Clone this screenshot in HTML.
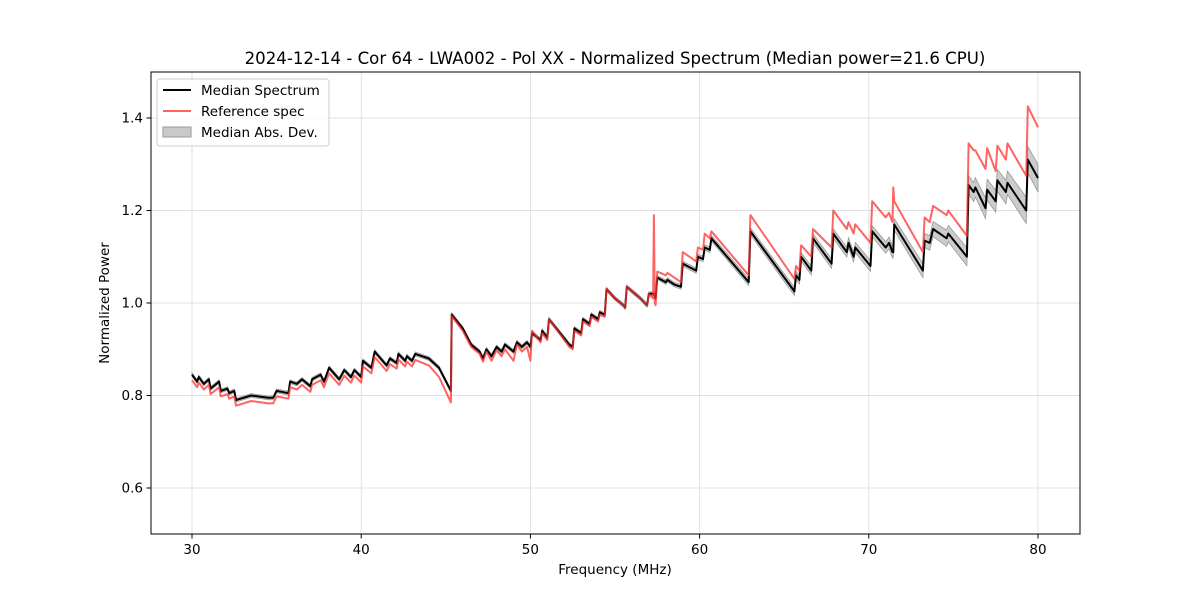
<!DOCTYPE html>
<html><head><meta charset="utf-8"><style>
body{margin:0;background:#fff;}
svg{display:block;font-family:"DejaVu Sans","Liberation Sans",sans-serif;}
</style></head><body>
<svg id="chart" width="1200" height="600">
<rect x="0" y="0" width="1200" height="600" fill="#fff"/>
<g id="grid"></g>
<g id="band"></g>
<g id="lines"></g>
<rect x="151" y="72" width="929" height="462" fill="none" stroke="#000" stroke-width="1"/>
<g id="ticks"></g>
<text x="615" y="64" text-anchor="middle" font-size="16.6">2024-12-14 - Cor 64 - LWA002 - Pol XX - Normalized Spectrum (Median power=21.6 CPU)</text>
<text x="615" y="574" text-anchor="middle" font-size="13.5">Frequency (MHz)</text>
<text x="109" y="303" text-anchor="middle" font-size="13.5" transform="rotate(-90 109 303)">Normalized Power</text>
<g>
<rect x="157" y="79" width="172" height="67" rx="3" fill="#fff" fill-opacity="0.8" stroke="#ccc"/>
<line x1="163" y1="90" x2="191" y2="90" stroke="#000" stroke-width="2"/>
<text x="201" y="95" font-size="13.5">Median Spectrum</text>
<line x1="163" y1="111" x2="191" y2="111" stroke="#ff6060" stroke-width="2"/>
<text x="201" y="116" font-size="13.5">Reference spec</text>
<rect x="163" y="127" width="28" height="10" fill="#bbb" fill-opacity="0.8" stroke="#999"/>
<text x="201" y="137" font-size="13.5">Median Abs. Dev.</text>
</g>
</svg>
<script>
const freqs=[30.0,30.3,30.4,30.7,31.0,31.1,31.6,31.7,32.1,32.2,32.5,32.6,33.5,34.5,34.8,35.0,35.7,35.8,36.2,36.5,37.0,37.1,37.6,37.8,38.1,38.7,39.0,39.4,39.6,40.0,40.1,40.6,40.8,41.5,41.7,42.1,42.2,42.6,42.7,43.0,43.2,44.0,44.6,45.3,45.35,46.0,46.5,47.0,47.2,47.4,47.7,48.0,48.3,48.5,49.0,49.2,49.5,49.8,50.0,50.1,50.6,50.7,51.0,51.1,52.3,52.5,52.6,53.0,53.1,53.5,53.6,54.0,54.1,54.4,54.5,55.0,55.5,55.6,55.7,56.5,56.9,57.0,57.25,57.3,57.35,57.4,57.5,58.0,58.1,58.5,58.9,59.0,59.8,59.9,60.2,60.3,60.6,60.7,62.9,63.0,65.6,65.7,65.9,66.0,66.6,66.7,67.8,67.9,68.5,68.7,68.8,69.1,69.2,70.1,70.2,71.0,71.2,71.4,71.45,71.5,73.2,73.3,73.6,73.8,74.6,74.7,75.8,75.9,76.2,76.3,76.9,77.0,77.5,77.6,78.1,78.2,79.3,79.4,80.0];
const median=[.845,.83,.84,.825,.835,.815,.83,.81,.815,.805,.81,.79,.80,.795,.795,.81,.805,.83,.825,.835,.82,.835,.845,.83,.86,.835,.855,.84,.855,.84,.875,.86,.895,.865,.88,.87,.89,.875,.885,.875,.89,.88,.86,.81,.975,.945,.91,.895,.88,.90,.885,.905,.895,.91,.895,.915,.905,.915,.905,.935,.92,.94,.925,.965,.91,.905,.945,.935,.965,.955,.975,.965,.98,.975,1.03,1.01,.995,.99,1.035,1.01,.995,1.02,1.02,1.02,1.015,1.01,1.055,1.045,1.05,1.04,1.035,1.085,1.07,1.10,1.095,1.12,1.115,1.14,1.045,1.155,1.025,1.06,1.05,1.10,1.07,1.14,1.085,1.15,1.12,1.11,1.13,1.10,1.12,1.08,1.155,1.12,1.13,1.11,1.11,1.17,1.07,1.135,1.13,1.16,1.14,1.15,1.10,1.255,1.24,1.25,1.205,1.245,1.22,1.265,1.24,1.26,1.20,1.31,1.27];
const reference=[.833,.818,.828,.813,.823,.803,.818,.798,.803,.793,.798,.778,.788,.783,.783,.798,.793,.818,.813,.823,.808,.823,.833,.818,.848,.823,.843,.828,.843,.828,.863,.848,.883,.853,.868,.858,.878,.863,.873,.863,.877,.865,.84,.785,.972,.94,.905,.89,.873,.895,.875,.898,.885,.90,.875,.91,.895,.905,.875,.94,.915,.935,.92,.965,.905,.90,.94,.93,.96,.95,.97,.96,.975,.97,1.03,1.01,.995,.99,1.035,1.01,.995,1.02,1.01,1.19,1.0,.995,1.068,1.06,1.065,1.055,1.045,1.11,1.09,1.12,1.115,1.15,1.14,1.155,1.06,1.19,1.052,1.08,1.07,1.125,1.10,1.16,1.12,1.20,1.17,1.16,1.175,1.15,1.17,1.13,1.22,1.185,1.195,1.175,1.25,1.22,1.11,1.185,1.175,1.21,1.19,1.20,1.145,1.345,1.33,1.33,1.29,1.335,1.285,1.34,1.31,1.345,1.275,1.425,1.38];
const madBreaks=[30,57,66,72,76,80];
const madWidth=[.004,.004,.009,.013,.02,.03];
const xTicks=[30,40,50,60,70,80];
const yTicks=[0.6,0.8,1.0,1.2,1.4];
const yTickLabels=["0.6","0.8","1.0","1.2","1.4"];

const X=f=>192+(f-30)*16.92;
const Y=v=>534.25-(v-0.5)*462.5;
const NS="http://www.w3.org/2000/svg";
function mk(tag,attrs,parent){const e=document.createElementNS(NS,tag);for(const k in attrs)e.setAttribute(k,attrs[k]);parent.appendChild(e);return e;}
function madAt(f){for(let i=1;i<madBreaks.length;i++){if(f<=madBreaks[i]){const t=(f-madBreaks[i-1])/(madBreaks[i]-madBreaks[i-1]);return madWidth[i-1]+t*(madWidth[i]-madWidth[i-1]);}}return madWidth[madWidth.length-1];}

const grid=document.getElementById('grid'),ticks=document.getElementById('ticks');
xTicks.forEach(t=>{
  const gl=mk('line',{x1:X(t),x2:X(t),y1:72,y2:534,stroke:'#e0e0e0','stroke-width':1},grid);
  
  
  const tk=mk('line',{x1:X(t),x2:X(t),y1:534,y2:538.5,stroke:'#000'},ticks);
  
  
  const tl=mk('text',{x:X(t),y:554,'text-anchor':'middle','font-size':13.5},ticks);
  tl.textContent=t;
  
  
});
yTicks.forEach((t,i)=>{
  const gl=mk('line',{x1:151,x2:1080,y1:Y(t),y2:Y(t),stroke:'#e0e0e0','stroke-width':1},grid);
  
  
  const tk=mk('line',{x1:146.5,x2:151,y1:Y(t),y2:Y(t),stroke:'#000'},ticks);
  
  
  const tl=mk('text',{x:143,y:Y(t)+4.5,'text-anchor':'end','font-size':13.5},ticks);
  tl.textContent=yTickLabels[i];
  
  
});
let up=[],dn=[];
freqs.forEach((f,i)=>{const d=madAt(f);up.push(X(f).toFixed(1)+','+Y(median[i]+d).toFixed(1));dn.unshift(X(f).toFixed(1)+','+Y(median[i]-d).toFixed(1));});
const band=mk('polygon',{points:up.concat(dn).join(' '),fill:'#aaa','fill-opacity':0.6,stroke:'#999','stroke-width':0.8},document.getElementById('band'));


const lines=document.getElementById('lines');
const refL=mk('polyline',{points:freqs.map((f,i)=>X(f).toFixed(1)+','+Y(reference[i]).toFixed(1)).join(' '),fill:'none',stroke:'#ff3030','stroke-opacity':0.75,'stroke-width':2,'stroke-linejoin':'round'},lines);


const medL=mk('polyline',{points:freqs.map((f,i)=>X(f).toFixed(1)+','+Y(median[i]).toFixed(1)).join(' '),fill:'none',stroke:'#000','stroke-width':2,'stroke-linejoin':'round'},lines);


lines.appendChild(refL);
</script>
</body></html>
